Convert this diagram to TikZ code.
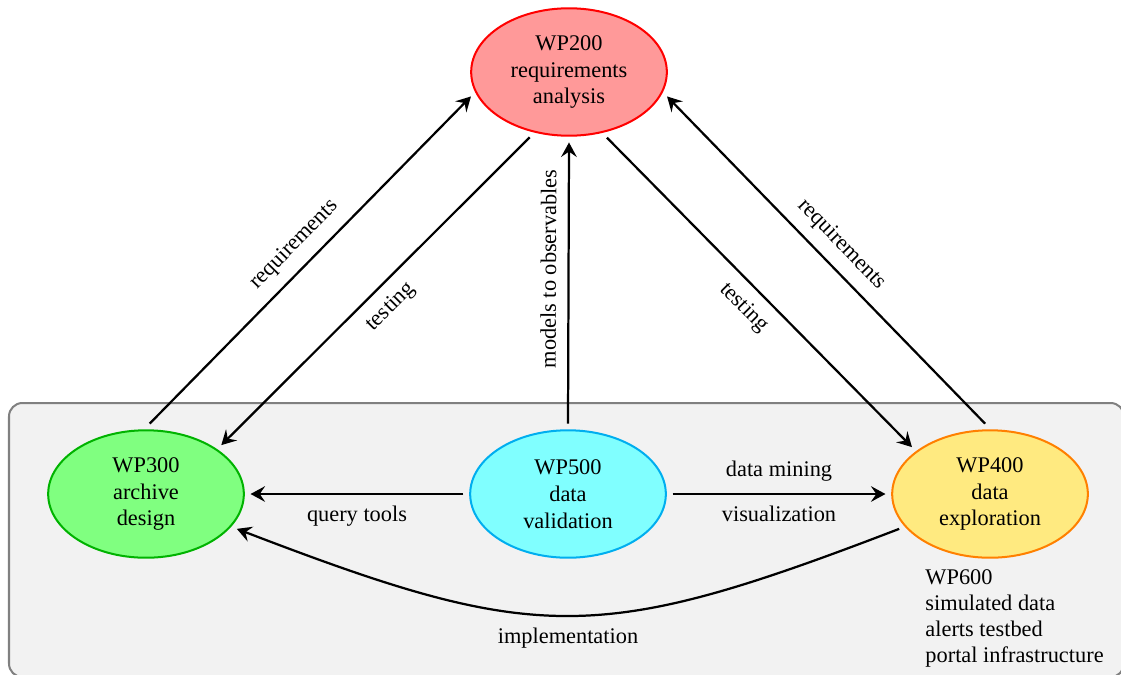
\documentclass[tikz,border=0pt]{standalone}
\usepackage{fontspec}
\setmainfont{Liberation Serif}
\usetikzlibrary{arrows.meta,shapes.geometric}
\definecolor{wpredfill}{HTML}{FF9999}
\definecolor{wpgreenfill}{HTML}{80FF80}
\definecolor{wpgreenline}{HTML}{00B300}
\definecolor{wpcyanfill}{HTML}{80FFFF}
\definecolor{wpcyanline}{HTML}{00AEEF}
\definecolor{wpyellowfill}{HTML}{FFEA80}
\definecolor{wporangeline}{HTML}{FF8000}
\definecolor{boxfill}{HTML}{F2F2F2}
\definecolor{boxline}{HTML}{808080}
\begin{document}
\begin{tikzpicture}[x=0.4472pt,y=-0.4472pt,
  wp/.style={ellipse, draw, line width=0.9pt, minimum width=87.5pt, minimum height=57pt,
    inner sep=1pt, outer sep=3pt, align=center, font=\fontsize{10}{12}\selectfont},
  conn/.style={line width=1pt, -{Stealth[length=6.5pt,width=7pt,inset=2.4pt]}},
  lbl/.style={font=\fontsize{10}{12}\selectfont, inner sep=5pt}]
\useasboundingbox (0,0) rectangle (1121,674);
\draw[fill=boxfill, draw=boxline, line width=0.9pt, rounded corners=6pt] (9,403) rectangle (1124,677);
\node[wp, fill=wpredfill, draw=red] (wp200) at (569,72) {WP200\\requirements\\analysis};
\node[wp, fill=wpgreenfill, draw=wpgreenline] (wp300) at (146,494) {WP300\\archive\\design};
\node[wp, fill=wpcyanfill, draw=wpcyanline] (wp500) at (568,494) {WP500\\data\\validation};
\node[wp, fill=wpyellowfill, draw=wporangeline] (wp400) at (990,494) {WP400\\data\\exploration};
\node[anchor=north west, inner sep=0pt, align=left, font=\fontsize{10}{11.6}\selectfont] (wp600) at (925,569)
  {WP600\\simulated data\\alerts testbed\\portal infrastructure};
\draw[conn] (wp300.87) -- node[lbl, midway, sloped, above] {requirements} (wp200.194);
\draw[conn] (wp200.239) -- node[lbl, midway, sloped, below] {testing} (wp300.33);
\draw[conn] (wp500.north) -- node[lbl, pos=0.55, sloped, above] {models to observables} (wp200.south);
\draw[conn] (wp200.300) -- node[lbl, midway, sloped, below] {testing} (wp400.149);
\draw[conn] (wp400.94) -- node[lbl, midway, sloped, above] {requirements} (wp200.346);
\draw[conn] (wp500.west) -- node[lbl, midway, below] {query tools} (wp300.east);
\draw[conn] (wp500.east) -- node[lbl, midway, above] {data mining} node[lbl, midway, below] {visualization} (wp400.west);
\draw[conn] (wp400.201) to[out=201, in=339, looseness=1.25] node[lbl, midway, below] {implementation} (wp300.339);
\end{tikzpicture}
\end{document}
